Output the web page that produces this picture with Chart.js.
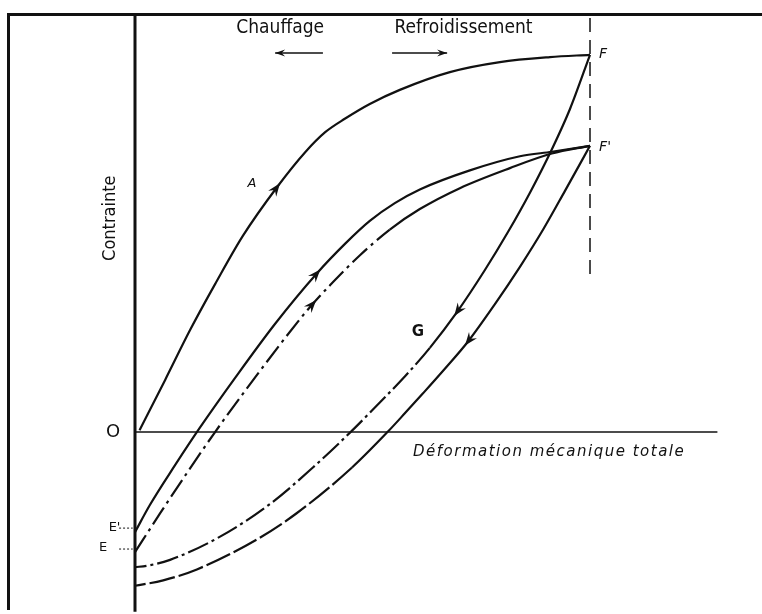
<!DOCTYPE html>
<html>
<head>
<meta charset="utf-8">
<script src="https://cdn.jsdelivr.net/npm/chart.js@4/dist/chart.umd.min.js"></script>
<style>
  html, body { margin: 0; padding: 0; background: #fff; }
  #diagram { display: block; }
</style>
</head>
<body>
<canvas id="diagram" width="762" height="614"></canvas>
<script>
// strain (x) and stress (y), arbitrary units: O is the origin, F sits at strain 10
const loadA_strain = [0.1, 0.66, 1.21, 1.76, 2.37, 3.12, 3.74, 4.18, 4.62, 5.16, 5.82, 6.92, 8.02, 9.12, 10];
const loadA_stress = [0.04, 1.14, 2.24, 3.25, 4.31, 5.38, 6.15, 6.59, 6.89, 7.21, 7.52, 7.91, 8.13, 8.24, 8.29];

// heating again from E' and from E, both up to F'
const riseE1_strain = [0, 0.33, 0.88, 1.43, 2.20, 3.08, 4.0, 4.62, 5.16, 5.71, 6.26, 7.36, 8.46, 9.16, 10];
const riseE1_stress = [-2.20, -1.60, -0.73, 0.10, 1.19, 2.38, 3.49, 4.14, 4.64, 5.03, 5.33, 5.75, 6.06, 6.16, 6.29];
const riseE_strain = [0, 0.55, 1.21, 1.76, 2.64, 3.56, 3.91, 4.29, 4.95, 5.60, 6.26, 7.14, 8.24, 9.16, 10];
const riseE_stress = [-2.64, -1.79, -0.80, 0, 1.20, 2.40, 2.82, 3.23, 3.89, 4.45, 4.90, 5.36, 5.80, 6.12, 6.29];

// cooling from F (through G) and from F'
const coolF_strain = [10, 9.56, 9.16, 8.68, 8.20, 7.69, 7.08, 6.48, 5.93, 5.38, 4.77, 3.91, 2.97, 1.87, 0.77, 0.26, 0];
const coolF_stress = [8.29, 7.10, 6.21, 5.26, 4.40, 3.56, 2.64, 1.85, 1.22, 0.65, 0.03, -0.78, -1.58, -2.30, -2.81, -2.94, -2.97];
const coolF1_strain = [10, 9.45, 8.97, 8.46, 7.91, 7.32, 6.81, 6.33, 5.93, 5.56, 4.77, 3.56, 2.68, 1.36, 0.62, 0];
const coolF1_stress = [6.29, 5.30, 4.45, 3.63, 2.81, 1.99, 1.39, 0.85, 0.41, 0.01, -0.78, -1.78, -2.36, -3.02, -3.26, -3.38];

// where the direction arrows sit: curve id and point index on that curve
const arrowMarks = [['A', 5], ['E1', 6], ['E', 6], ['F', 6], ['F1', 5]];

const pts = (xs, ys) => xs.map((x, i) => ({ x: x, y: ys[i] }));
const ink = '#111';
const condensed = '"DejaVu Sans Condensed", "DejaVu Sans", sans-serif';

const curve = (id, xs, ys, extra) => Object.assign({
    id: id,
    data: pts(xs, ys),
    showLine: true,
    borderColor: ink,
    borderWidth: 2.2,
    pointRadius: 0,
    cubicInterpolationMode: 'monotone',
}, extra || {});

const rule = (xs, ys, width, dash) => ({
    data: pts(xs, ys),
    showLine: true,
    borderColor: ink,
    borderWidth: width,
    borderDash: dash || [],
    pointRadius: 0,
    tension: 0,
});

const fStrain = loadA_strain[loadA_strain.length - 1];

const datasets = [
    // axes through O, and the dashed limit at F's strain
    rule([0, 0], [9.2, -3.95], 3),
    rule([0, 12.8], [0, 0], 1.5),
    rule([fStrain, fStrain], [9.1, 3.3], 1.5, [14, 8]),
    curve('A', loadA_strain, loadA_stress),
    curve('E1', riseE1_strain, riseE1_stress),
    curve('E', riseE_strain, riseE_stress, {
        segment: { borderDash: c => c.p0.parsed.x < 5 ? [20, 5, 3, 5] : undefined }
    }),
    curve('F', coolF_strain, coolF_stress, {
        segment: { borderDash: c => c.p0.parsed.y < 2.6 ? [22, 4, 3, 4] : undefined }
    }),
    curve('F1', coolF1_strain, coolF1_stress, {
        segment: { borderDash: c => c.p0.parsed.y < -0.5 ? [26, 4] : undefined }
    }),
];

const labels = [
    { text: 'Chauffage', x: 3.19, y: 8.88, font: '19px ' + condensed },
    { text: 'Refroidissement', x: 7.22, y: 8.88, font: '19px ' + condensed },
    { text: 'Contrainte', x: -0.55, y: 4.7, rot: -Math.PI / 2, font: '18px ' + condensed },
    { text: 'O', x: -0.48, y: 0, font: '18px "DejaVu Sans", sans-serif' },
    { text: 'A', x: 2.57, y: 5.47, font: 'italic 13px "DejaVu Sans", sans-serif' },
    { text: 'G', x: 6.22, y: 2.2, font: 'bold 15px "DejaVu Sans", sans-serif' },
    { text: 'F', x: 10.2, y: 8.29, align: 'left', font: 'italic 14px "DejaVu Sans", sans-serif' },
    { text: "F'", x: 10.2, y: 6.26, align: 'left', font: 'italic 14px "DejaVu Sans", sans-serif' },
    { text: 'Déformation mécanique totale', x: 6.11, y: -0.44, align: 'left', spacing: '1.5px',
      font: 'italic 15px "DejaVu Sans", sans-serif' },
    { text: "E'", x: -0.45, y: -2.1, font: '13px "DejaVu Sans", sans-serif' },
    { text: 'E', x: -0.7, y: -2.55, font: '13px "DejaVu Sans", sans-serif' },
];

// heading arrows under Chauffage / Refroidissement: [from, to] strain, at this stress
const headingArrows = [[4.13, 3.08], [5.65, 6.86]];
const headingStress = 8.33;

function arrowHead(ctx, x, y, ang, len, half) {
    ctx.save();
    ctx.translate(x, y);
    ctx.rotate(ang);
    ctx.beginPath();
    ctx.moveTo(0, 0);
    ctx.lineTo(-len, -half);
    ctx.lineTo(-len * 0.65, 0);
    ctx.lineTo(-len, half);
    ctx.closePath();
    ctx.fill();
    ctx.restore();
}

const decorations = {
    id: 'decorations',
    afterDatasetsDraw(chart) {
        const ctx = chart.ctx;
        const xs = chart.scales.x, ys = chart.scales.y;
        ctx.save();
        ctx.fillStyle = ink;
        ctx.strokeStyle = ink;

        // frame: left and top edges of the figure
        ctx.lineWidth = 3;
        ctx.beginPath();
        ctx.moveTo(8.5, 610);
        ctx.lineTo(8.5, 14.5);
        ctx.lineTo(762, 14.5);
        ctx.stroke();

        // direction arrows along the curves
        arrowMarks.forEach(([id, i]) => {
            const ds = chart.data.datasets.find(d => d.id === id);
            const p = ds.data[i], a = ds.data[i - 1], b = ds.data[i + 1];
            const px = xs.getPixelForValue(p.x), py = ys.getPixelForValue(p.y);
            const ang = Math.atan2(ys.getPixelForValue(b.y) - ys.getPixelForValue(a.y),
                                   xs.getPixelForValue(b.x) - xs.getPixelForValue(a.x));
            arrowHead(ctx, px + 5 * Math.cos(ang), py + 5 * Math.sin(ang), ang, 13, 5);
        });

        // heading arrows
        ctx.lineWidth = 1.5;
        const hy = ys.getPixelForValue(headingStress);
        headingArrows.forEach(([from, to]) => {
            const x0 = xs.getPixelForValue(from), x1 = xs.getPixelForValue(to);
            ctx.beginPath();
            ctx.moveTo(x0, hy);
            ctx.lineTo(x1, hy);
            ctx.stroke();
            arrowHead(ctx, x1, hy, x1 > x0 ? 0 : Math.PI, 10, 3.5);
        });

        // dotted leaders next to E' and E
        ctx.lineWidth = 1;
        ctx.setLineDash([2, 2]);
        [-2.2, -2.66].forEach(v => {
            const y = ys.getPixelForValue(v) - 4;
            ctx.beginPath();
            ctx.moveTo(xs.getPixelForValue(-0.35), y);
            ctx.lineTo(xs.getPixelForValue(-0.05), y);
            ctx.stroke();
        });
        ctx.setLineDash([]);

        // labels
        ctx.textBaseline = 'middle';
        labels.forEach(l => {
            ctx.save();
            ctx.font = l.font;
            ctx.letterSpacing = l.spacing || '0px';
            ctx.textAlign = l.align || 'center';
            ctx.translate(xs.getPixelForValue(l.x), ys.getPixelForValue(l.y));
            if (l.rot) ctx.rotate(l.rot);
            ctx.fillText(l.text, 0, 0);
            ctx.restore();
        });
        ctx.restore();
    }
};

new Chart(document.getElementById('diagram'), {
    type: 'scatter',
    data: { datasets: datasets },
    options: {
        responsive: false,
        devicePixelRatio: 1,
        animation: false,
        layout: { padding: 0 },
        plugins: { legend: { display: false }, tooltip: { enabled: false } },
        scales: {
            x: { type: 'linear', min: -2.967, max: 13.78, display: false },
            y: { type: 'linear', min: -4.0, max: 9.495, display: false },
        },
    },
    plugins: [decorations],
});
</script>
</body>
</html>
